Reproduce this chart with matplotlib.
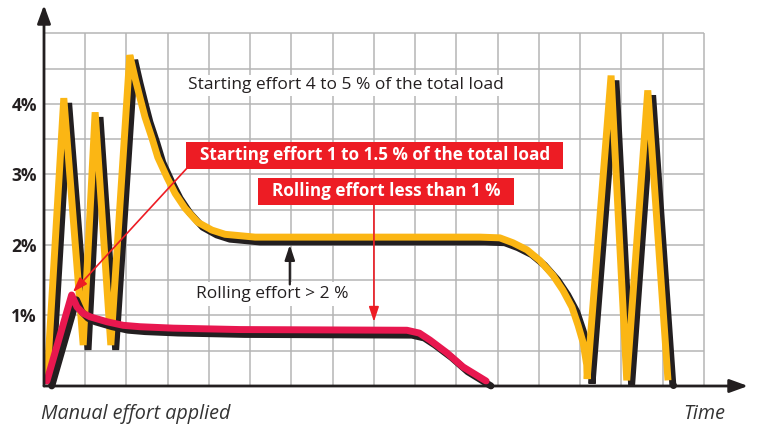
import matplotlib.pyplot as plt
from matplotlib import transforms

plt.rcParams['font.family'] = ['Open Sans', 'DejaVu Sans']

# time in grid units, effort in % of the total load
yellow_t = [0.07, 0.48, 0.95, 1.24, 1.62, 2.08, 2.21, 2.33, 2.45, 2.62, 2.76, 2.98,
            3.18, 3.42, 3.73, 4.07, 4.39, 5.12, 10.57, 11.05, 11.37, 11.71, 12.02,
            12.34, 12.58, 12.80, 12.95, 13.07, 13.16, 13.17, 13.75, 14.13, 14.64, 15.13]
yellow_v = [0.06, 4.08, 0.58, 3.88, 0.58, 4.69, 4.36, 4.08, 3.81, 3.51, 3.24, 2.96,
            2.73, 2.52, 2.32, 2.21, 2.15, 2.11, 2.11, 2.10, 2.03, 1.93, 1.78,
            1.57, 1.36, 1.12, 0.86, 0.62, 0.30, 0.10, 4.40, 0.08, 4.19, 0.08]

red_t = [0.07, 0.67, 0.80, 0.95, 1.12, 1.53, 1.92, 2.33, 3.13, 4.75, 8.80,
         9.10, 9.36, 9.77, 10.16, 10.72]
red_v = [0.07, 1.29, 1.12, 1.03, 0.98, 0.91, 0.86, 0.84, 0.82, 0.80, 0.79,
         0.75, 0.65, 0.47, 0.27, 0.07]

ytick_vals = [1, 2, 3, 4]
ytick_labels = ['1%', '2%', '3%', '4%']

YELLOW = '#FBB614'
PINK = '#E8174F'
RED = '#ED1C24'
INK = '#231F20'
GRID = '#B5B5B5'

fig = plt.figure(figsize=(7.58, 4.24), dpi=100)
ax = fig.add_axes([44 / 758, 38 / 424, 704 / 758, 381 / 424])
ax.set_xlim(0, 17.07)
ax.set_ylim(0, 5.4)
for s in ax.spines.values():
    s.set_visible(False)

# grid only over the 16 x 10 box
ax.vlines(range(1, 17), 0, 5, color=GRID, lw=1.1, zorder=1)
ax.hlines([i * 0.5 for i in range(1, 11)], 0, 16, color=GRID, lw=1.1, zorder=1)

ax.set_xticks([])
ax.set_yticks(ytick_vals, labels=ytick_labels)
ax.tick_params(axis='y', length=0, pad=5, labelsize=12.5, labelcolor=INK)
for lab in ax.get_yticklabels():
    lab.set_fontweight('bold')

# axes with arrows
for end in [(17.07, 0), (0, 5.4)]:
    ax.annotate('', xy=end, xytext=(0, 0), annotation_clip=False, zorder=6,
                arrowprops=dict(arrowstyle='-|>,head_length=0.55,head_width=0.2',
                                mutation_scale=20, color=INK, lw=2,
                                shrinkA=0, shrinkB=0))

shadow = transforms.offset_copy(ax.transData, fig=fig, x=3.5, y=-3.5, units='points')

ax.plot(yellow_t, yellow_v, color=INK, lw=5, transform=shadow, zorder=3,
        solid_joinstyle='bevel', solid_capstyle='butt', clip_on=False,
        marker='o', ms=4, markevery=[-1])
ax.plot(yellow_t, yellow_v, color=YELLOW, lw=5, zorder=3.5,
        solid_joinstyle='bevel', solid_capstyle='butt', clip_on=False)
ax.plot(red_t, red_v, color=INK, lw=5, transform=shadow, zorder=4,
        solid_joinstyle='round', solid_capstyle='round', clip_on=False)
ax.plot(red_t, red_v, color=PINK, lw=5, zorder=4.5,
        solid_joinstyle='round', solid_capstyle='round', clip_on=False)

# labels
ax.text(7.32, 4.26, 'Starting effort 4 to 5 % of the total load', fontsize=12.5,
        color=INK, ha='center', va='center', zorder=2,
        bbox=dict(facecolor='white', edgecolor='none', pad=2))
ax.text(5.53, 1.30, 'Rolling effort > 2 %', fontsize=12.5, color=INK,
        ha='center', va='center', zorder=2,
        bbox=dict(facecolor='white', edgecolor='none', pad=3))
ax.text(8.02, 3.27, '  Starting effort 1 to 1.5 % of the total load  ', fontsize=12.3,
        fontweight='bold', color='white', ha='center', va='center', zorder=7,
        bbox=dict(facecolor=RED, edgecolor='none', pad=3.3))
ax.text(8.30, 2.76, '  Rolling effort less than 1 %  ', fontsize=12.3,
        fontweight='bold', color='white', ha='center', va='center', zorder=7,
        bbox=dict(facecolor=RED, edgecolor='none', pad=3.3))

# arrows to the curves
ax.annotate('', xy=(0.70, 1.33), xytext=(3.47, 3.09), zorder=6,
            arrowprops=dict(arrowstyle='-|>,head_length=0.9,head_width=0.3',
                            mutation_scale=10, color=RED, lw=1.2, shrinkA=0, shrinkB=0))
ax.annotate('', xy=(8.0, 0.91), xytext=(8.0, 2.58), zorder=6,
            arrowprops=dict(arrowstyle='-|>,head_length=0.9,head_width=0.3',
                            mutation_scale=10, color=RED, lw=1.2, shrinkA=0, shrinkB=0))
ax.annotate('', xy=(5.96, 2.0), xytext=(5.96, 1.44), zorder=6,
            arrowprops=dict(arrowstyle='-|>,head_length=0.9,head_width=0.3',
                            mutation_scale=10, color=INK, lw=1.6, shrinkA=0, shrinkB=0))

fig.text(41 / 758, 1 - 414 / 424, 'Manual effort applied', fontsize=14.2,
         style='italic', color='#333333', ha='left', va='center')
fig.text(725 / 758, 1 - 414 / 424, 'Time', fontsize=14.2,
         style='italic', color='#333333', ha='right', va='center')

fig.savefig('out.png', dpi=100)
